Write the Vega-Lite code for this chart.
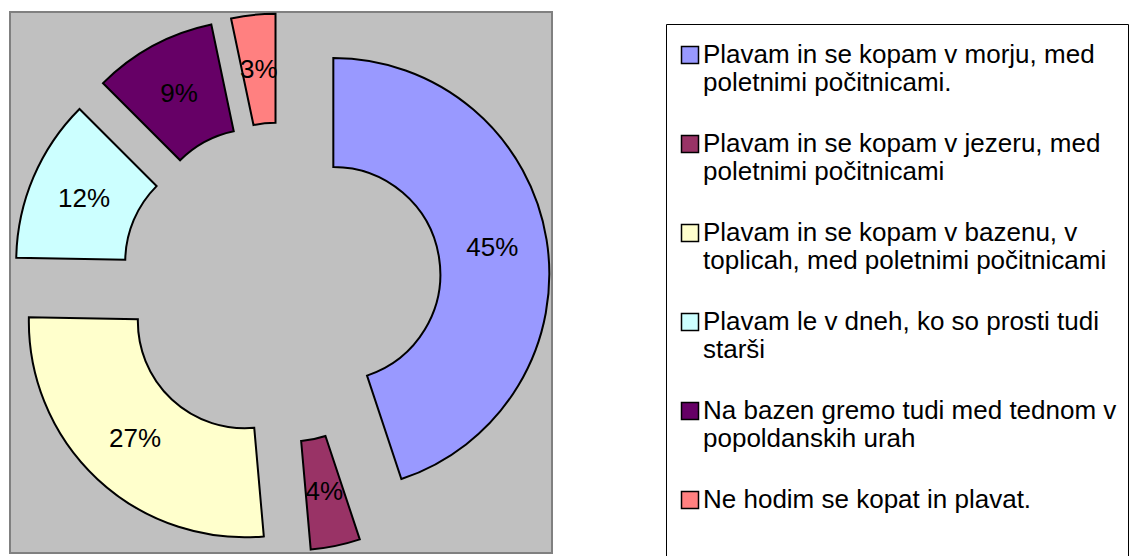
{
  "$schema": "https://vega.github.io/schema/vega-lite/v6.json",
  "width": 542,
  "height": 541,
  "padding": {"left": 10, "top": 12, "right": 579, "bottom": 3},
  "autosize": {"type": "none"},
  "background": "white",
  "view": {"fill": "#C0C0C0", "stroke": "#808080", "strokeWidth": 2},
  "config": {
    "font": "Liberation Sans"
  },
  "data": {
    "values": [
      {"idx": 1, "category": "Plavam in se kopam v morju, med\npoletnimi počitnicami.", "value": 44.9, "label": "45%"},
      {"idx": 2, "category": "Plavam in se kopam v jezeru, med\npoletnimi počitnicami", "value": 3.7, "label": "4%"},
      {"idx": 3, "category": "Plavam in se kopam v bazenu, v\ntoplicah, med poletnimi počitnicami", "value": 26.7, "label": "27%"},
      {"idx": 4, "category": "Plavam le v dneh, ko so prosti tudi\nstarši", "value": 12.2, "label": "12%"},
      {"idx": 5, "category": "Na bazen gremo tudi med tednom v\npopoldanskih urah", "value": 9.2, "label": "9%"},
      {"idx": 6, "category": "Ne hodim se kopat in plavat.", "value": 3.3, "label": "3%"}
    ]
  },
  "encoding": {
    "theta": {"field": "value", "type": "quantitative", "stack": true},
    "order": {"field": "idx", "type": "quantitative"}
  },
  "layer": [
    {
      "mark": {
        "type": "arc",
        "innerRadius": 107,
        "outerRadius": 216,
        "stroke": "black",
        "strokeWidth": 2,
        "xOffset": {"expr": "53*sin((scale('theta', datum.value_start) + scale('theta', datum.value_end))/2)"},
        "yOffset": {"expr": "-53*cos((scale('theta', datum.value_start) + scale('theta', datum.value_end))/2)"}
      },
      "encoding": {
        "color": {
          "field": "category",
          "type": "nominal",
          "sort": null,
          "scale": {
            "domain": [
              "Plavam in se kopam v morju, med\npoletnimi počitnicami.",
              "Plavam in se kopam v jezeru, med\npoletnimi počitnicami",
              "Plavam in se kopam v bazenu, v\ntoplicah, med poletnimi počitnicami",
              "Plavam le v dneh, ko so prosti tudi\nstarši",
              "Na bazen gremo tudi med tednom v\npopoldanskih urah",
              "Ne hodim se kopat in plavat."
            ],
            "range": ["#9999FF", "#993366", "#FFFFCC", "#CCFFFF", "#660066", "#FF8080"]
          },
          "legend": {
            "title": " ",
            "titleFontSize": 3,
            "titlePadding": 4,
            "orient": "none",
            "legendX": 656,
            "legendY": 12,
            "padding": 11,
            "strokeColor": "black",
            "fillColor": "white",
            "symbolType": "square",
            "symbolSize": 289,
            "symbolStrokeColor": "black",
            "symbolStrokeWidth": 1.5,
            "symbolOpacity": 1,
            "labelFont": "Liberation Sans",
            "labelFontSize": 26,
            "labelColor": "black",
            "labelLimit": 800,
            "labelOffset": 0,
            "labelLineHeight": 31,
            "labelExpr": "datum.value == 'Ne hodim se kopat in plavat.' ? [datum.label, ' ', '\u00a0\u00a0\u00a0\u00a0\u00a0\u00a0\u00a0\u00a0\u00a0\u00a0\u00a0\u00a0\u00a0\u00a0\u00a0\u00a0\u00a0\u00a0\u00a0\u00a0\u00a0\u00a0\u00a0\u00a0\u00a0\u00a0\u00a0\u00a0\u00a0\u00a0\u00a0\u00a0\u00a0\u00a0\u00a0\u00a0\u00a0\u00a0\u00a0\u00a0\u00a0\u00a0\u00a0\u00a0\u00a0\u00a0\u00a0\u00a0\u00a0\u00a0\u00a0\u00a0\u00a0\u00a0\u00a0\u00a0\u00a0\u00a0\u00a0\u00a0\u00a0\u00a0\u00a0\u00a0\u00a0\u00a0\u00a0\u00a0\u00a0\u00a0'] : split(datum.label, '\\n')",
            "rowPadding": 35
          }
        }
      }
    },
    {
      "mark": {
        "type": "text",
        "radius": 161,
        "fontSize": 26,
        "font": "Liberation Sans",
        "color": "black",
        "xOffset": {"expr": "53*sin((scale('theta', datum.value_start) + scale('theta', datum.value_end))/2)"},
        "yOffset": {"expr": "-53*cos((scale('theta', datum.value_start) + scale('theta', datum.value_end))/2)"}
      },
      "encoding": {
        "text": {"field": "label", "type": "nominal"}
      }
    }
  ]
}
